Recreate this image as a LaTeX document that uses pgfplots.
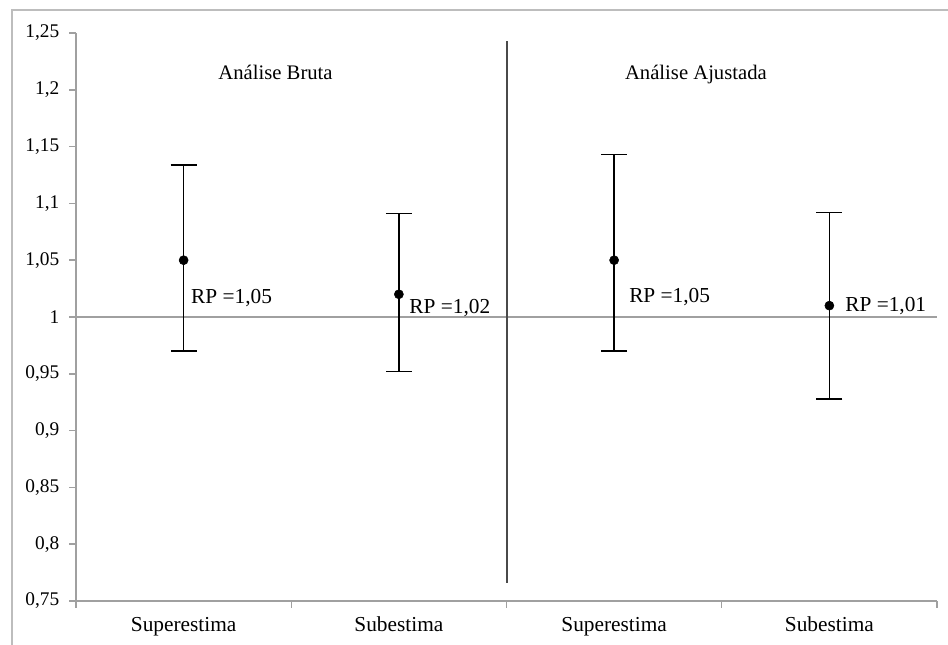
\documentclass[border=0pt]{standalone}
\usepackage{pgfplots}
\usepackage{pgfplotstable}
\pgfplotsset{compat=1.18}
\usepackage{fontspec}
\setmainfont{Liberation Serif}
\definecolor{axgray}{HTML}{A0A0A0}
\definecolor{frgray}{HTML}{BDBDBD}
\definecolor{vline}{HTML}{4A4A4A}
\pgfplotstableread{
x y ep em
0 1.05 0.084 0.080
1 1.02 0.071 0.068
2 1.05 0.093 0.080
3 1.01 0.082 0.082
}\rpdata
\begin{document}
\begin{tikzpicture}
\path[use as bounding box] (0,0) rectangle (711pt,483.75pt);
\draw[frgray, line width=1.5pt] (9pt,-10pt) rectangle (730pt,476.25pt);
\begin{axis}[
  at={(57pt,33pt)}, anchor=south west,
  scale only axis, width=645.75pt, height=426pt,
  xmin=-0.5, xmax=3.5, ymin=0.75, ymax=1.25,
  axis x line=bottom, axis y line=left,
  axis line style={axgray, line width=1.2pt, -},
  tick style={axgray, line width=1.1pt},
  tick align=outside,
  major tick length=5pt,
  xtick={0,1,2,3},
  xticklabels={Superestima,Subestima,Superestima,Subestima},
  major x tick style={draw=none},
  minor xtick={-0.5,0.5,1.5,2.5,3.5},
  minor tick length=5pt,
  ytick={0.75,0.8,...,1.26},
  /pgf/number format/.cd, use comma, assume math mode=true,
  /pgfplots/.cd,
  yticklabel style={font=\fontsize{14.5}{16}\selectfont, xshift=-4pt},
  xticklabel style={font=\fontsize{16}{18}\selectfont, text height=11pt, text depth=3.5pt, yshift=-3pt},
  clip=false,
]
\addplot[axgray, line width=1.1pt] coordinates {(-0.5,1) (3.5,1)};
\addplot[vline, line width=1.5pt] coordinates {(1.5,0.766) (1.5,1.243)};
\addplot[only marks, mark=*, mark size=3.4pt, black,
  error bars/.cd, y dir=both, y explicit,
  error mark=-, error bar style={black, line width=1.1pt},
  error mark options={black, mark size=9.75pt, line width=1.2pt, rotate=90}]
  table[x=x, y=y, y error plus=ep, y error minus=em] {\rpdata};
\node[anchor=base, font=\fontsize{15.5}{18}\selectfont] at (axis cs:0.427,1.2095) {Análise Bruta};
\node[anchor=base, font=\fontsize{15.5}{18}\selectfont] at (axis cs:2.38,1.2095) {Análise Ajustada};
\node[anchor=base west, inner sep=0pt, font=\fontsize{16}{18}\selectfont] at (axis cs:0.034,1.0123) {RP =1,05};
\node[anchor=base west, inner sep=0pt, font=\fontsize{16}{18}\selectfont] at (axis cs:1.048,1.0035) {RP =1,02};
\node[anchor=base west, inner sep=0pt, font=\fontsize{16}{18}\selectfont] at (axis cs:2.069,1.0126) {RP =1,05};
\node[anchor=base west, inner sep=0pt, font=\fontsize{16}{18}\selectfont] at (axis cs:3.073,1.0044) {RP =1,01};
\end{axis}
\end{tikzpicture}
\end{document}
